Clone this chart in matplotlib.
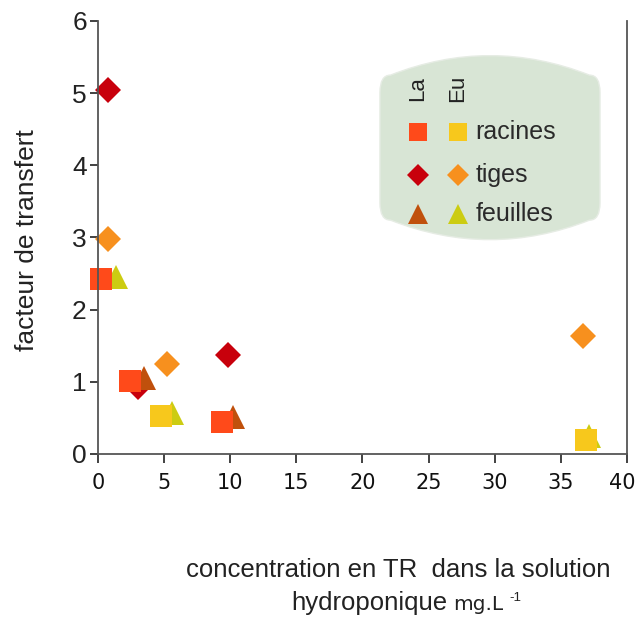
import matplotlib
matplotlib.use('Agg')
import matplotlib.pyplot as plt
import matplotlib.transforms as mtransforms
from matplotlib.path import Path
from matplotlib.patches import PathPatch

plt.rcParams['font.family'] = ['Liberation Sans', 'DejaVu Sans']

# ----------------------------------------------------------------
# Données : facteur de transfert en fonction de la concentration
# ----------------------------------------------------------------
la_racines_x = [0.2, 2.4, 9.4]
la_racines_y = [2.43, 1.01, 0.44]
eu_racines_x = [4.8, 36.9]
eu_racines_y = [0.53, 0.19]

la_tiges_x = [0.75, 3.0, 9.8]
la_tiges_y = [5.05, 0.93, 1.37]
eu_tiges_x = [0.75, 5.2, 36.7]
eu_tiges_y = [2.98, 1.24, 1.63]

la_feuilles_x = [3.5, 10.2]
la_feuilles_y = [1.05, 0.51]
eu_feuilles_x = [1.4, 5.6, 37.1]
eu_feuilles_y = [2.45, 0.57, 0.25]

c_la_rac, c_eu_rac = '#ff4a1a', '#f7c81c'
c_la_tig, c_eu_tig = '#c8000c', '#f7901e'
c_la_feu, c_eu_feu = '#c0500c', '#cccc12'

fig = plt.figure(figsize=(6.37, 6.17), dpi=100)
ax = fig.add_axes([0.1538, 0.2642, 0.8305, 0.7018])

# ordre : losanges, triangles, carrés
kw = dict(mew=0, clip_on=False, linestyle='none')
ax.plot(la_tiges_x, la_tiges_y, 'D', color=c_la_tig, ms=13.5, **kw)
ax.plot(eu_tiges_x, eu_tiges_y, 'D', color=c_eu_tig, ms=13.5, **kw)
ax.plot(la_feuilles_x, la_feuilles_y, '^', color=c_la_feu, ms=17, **kw)
ax.plot(eu_feuilles_x, eu_feuilles_y, '^', color=c_eu_feu, ms=17, **kw)
ax.plot(la_racines_x, la_racines_y, 's', color=c_la_rac, ms=15.6, **kw)
ax.plot(eu_racines_x, eu_racines_y, 's', color=c_eu_rac, ms=15.6, **kw)

ax.set_xlim(0, 40)
ax.set_ylim(0, 6)
ax.set_xticks(range(0, 41, 5))
ax.set_yticks(range(0, 7))
ax.spines['top'].set_visible(False)
for s in ['left', 'bottom', 'right']:
    ax.spines[s].set_color('#555555')
    ax.spines[s].set_linewidth(1.3)
ax.tick_params(axis='both', direction='out', width=1.3, color='#333333')
ax.tick_params(axis='y', labelsize=19, pad=2, length=6)
ax.tick_params(axis='x', labelsize=15, pad=7, length=6.5)
for lab in ax.get_xticklabels():
    lab.set_family('DejaVu Sans')
    lab.set_color('#111111')
for lab in ax.get_yticklabels():
    lab.set_color('#222222')
# le « 40 » touche le bord droit : on le décale un peu
dernier = ax.get_xticklabels()[-1]
dernier.set_transform(dernier.get_transform() +
                      mtransforms.ScaledTranslation(-5 / 100, 0, fig.dpi_scale_trans))

# ----------------------------------------------------------------
# Légende dessinée à la main (fond vert pâle)
# ----------------------------------------------------------------
x0, x1 = 0.533, 0.949
yb, yt = 0.54, 0.875
bulge = 0.045
r = 0.02
verts = [
    (x0 + r, yt), (0.741, yt + 2 * bulge), (x1 - r, yt),
    (x1, yt), (x1, yt - 0.04),
    (x1, yb + 0.04),
    (x1, yb), (x1 - r, yb),
    (0.741, yb - 2 * bulge), (x0 + r, yb),
    (x0, yb), (x0, yb + 0.04),
    (x0, yt - 0.04),
    (x0, yt), (x0 + r, yt),
    (x0 + r, yt),
]
codes = [Path.MOVETO, Path.CURVE3, Path.CURVE3,
         Path.CURVE3, Path.CURVE3,
         Path.LINETO,
         Path.CURVE3, Path.CURVE3,
         Path.CURVE3, Path.CURVE3,
         Path.CURVE3, Path.CURVE3,
         Path.LINETO,
         Path.CURVE3, Path.CURVE3,
         Path.CLOSEPOLY]
ax.add_patch(PathPatch(Path(verts, codes), transform=ax.transAxes,
                       facecolor='#d8e5d5', edgecolor='#e6ece4', lw=1, zorder=1))

col_la, col_eu, col_txt = 0.605, 0.680, 0.714
rows = [0.744, 0.644, 0.554]
ax.text(col_la, 0.845, 'La', transform=ax.transAxes, rotation=90,
        ha='center', va='center', fontsize=16, color='#222222')
ax.text(col_eu, 0.845, 'Eu', transform=ax.transAxes, rotation=90,
        ha='center', va='center', fontsize=16, color='#222222')
leg = [('s', c_la_rac, c_eu_rac, 'racines', 13),
       ('D', c_la_tig, c_eu_tig, 'tiges', 11.5),
       ('^', c_la_feu, c_eu_feu, 'feuilles', 14)]
for (m, cl, ce, name, ms), y in zip(leg, rows):
    ax.plot([col_la], [y], m, color=cl, ms=ms, mew=0, transform=ax.transAxes)
    ax.plot([col_eu], [y], m, color=ce, ms=ms, mew=0, transform=ax.transAxes)
    ax.text(col_txt, y, name, transform=ax.transAxes, ha='left', va='center',
            fontsize=18, color='#2a2a2a')

# ----------------------------------------------------------------
# Titres des axes
# ----------------------------------------------------------------
fig.text(0.042, 0.611, 'facteur de transfert', rotation=90, ha='center',
         va='center', fontsize=19, color='#222222')
fig.text(0.625, 0.076, 'concentration en TR  dans la solution', ha='center',
         va='center', fontsize=18.5, color='#222222')
fig.text(0.458, 0.023, 'hydroponique', ha='left', va='center',
         fontsize=18.5, color='#222222')
fig.text(0.711, 0.021, 'mg.L', ha='left', va='center', fontsize=14.5,
         family='DejaVu Sans', color='#222222')
fig.text(0.800, 0.030, '-1', ha='left', va='center', fontsize=9.5,
         color='#222222')

plt.savefig('out.png', dpi=100)
plt.close()
